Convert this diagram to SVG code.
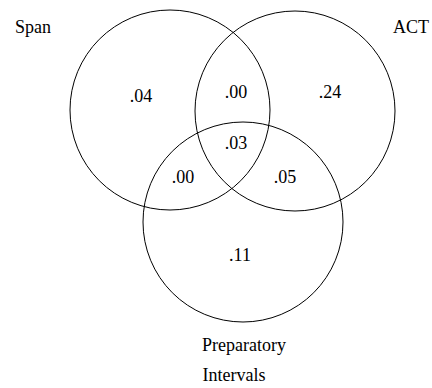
<svg xmlns="http://www.w3.org/2000/svg" width="432" height="388" viewBox="0 0 432 388">
<style>
.c{fill:none;stroke:#000;stroke-width:1}
text{font-family:"Liberation Serif","Times New Roman",serif;font-size:18px;fill:#000}
.m{text-anchor:middle}
</style>
<rect width="432" height="388" fill="#fff"/>
<g id="span"><circle class="c" cx="170" cy="110" r="100"/><text x="15" y="33">Span</text></g>
<g id="act"><circle class="c" cx="295" cy="111" r="100"/><text x="393" y="33">ACT</text></g>
<g id="prep"><circle class="c" cx="243" cy="222" r="100"/><text class="m" x="244" y="351">Preparatory</text><text class="m" x="234" y="381">Intervals</text></g>
<g id="labels">
<text class="m" x="141" y="102">.04</text>
<text class="m" x="236" y="98">.00</text>
<text class="m" x="330" y="98">.24</text>
<text class="m" x="236" y="149">.03</text>
<text class="m" x="183" y="183">.00</text>
<text class="m" x="285" y="183">.05</text>
<text class="m" x="240" y="261">.11</text>
</g>
</svg>
